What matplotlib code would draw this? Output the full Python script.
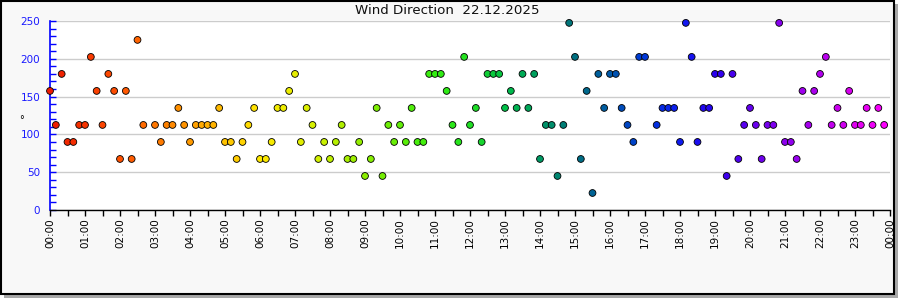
import numpy as np
import matplotlib
matplotlib.use("Agg")
import matplotlib.pyplot as plt
from matplotlib.colors import LinearSegmentedColormap
from matplotlib.patches import Rectangle

# Mesures toutes les 10 minutes (trous a 02:50 et 17:10)
times = [
    "00:00", "00:10", "00:20", "00:30", "00:40", "00:50",
    "01:00", "01:10", "01:20", "01:30", "01:40", "01:50",
    "02:00", "02:10", "02:20", "02:30", "02:40",
    "03:00", "03:10", "03:20", "03:30", "03:40", "03:50",
    "04:00", "04:10", "04:20", "04:30", "04:40", "04:50",
    "05:00", "05:10", "05:20", "05:30", "05:40", "05:50",
    "06:00", "06:10", "06:20", "06:30", "06:40", "06:50",
    "07:00", "07:10", "07:20", "07:30", "07:40", "07:50",
    "08:00", "08:10", "08:20", "08:30", "08:40", "08:50",
    "09:00", "09:10", "09:20", "09:30", "09:40", "09:50",
    "10:00", "10:10", "10:20", "10:30", "10:40", "10:50",
    "11:00", "11:10", "11:20", "11:30", "11:40", "11:50",
    "12:00", "12:10", "12:20", "12:30", "12:40", "12:50",
    "13:00", "13:10", "13:20", "13:30", "13:40", "13:50",
    "14:00", "14:10", "14:20", "14:30", "14:40", "14:50",
    "15:00", "15:10", "15:20", "15:30", "15:40", "15:50",
    "16:00", "16:10", "16:20", "16:30", "16:40", "16:50",
    "17:00", "17:20", "17:30", "17:40", "17:50",
    "18:00", "18:10", "18:20", "18:30", "18:40", "18:50",
    "19:00", "19:10", "19:20", "19:30", "19:40", "19:50",
    "20:00", "20:10", "20:20", "20:30", "20:40", "20:50",
    "21:00", "21:10", "21:20", "21:30", "21:40", "21:50",
    "22:00", "22:10", "22:20", "22:30", "22:40", "22:50",
    "23:00", "23:10", "23:20", "23:30", "23:40", "23:50",
]
direction = [
    157.5, 112.5, 180, 90, 90, 112.5,
    112.5, 202.5, 157.5, 112.5, 180, 157.5,
    67.5, 157.5, 67.5, 225, 112.5,
    112.5, 90, 112.5, 112.5, 135, 112.5,
    90, 112.5, 112.5, 112.5, 112.5, 135,
    90, 90, 67.5, 90, 112.5, 135,
    67.5, 67.5, 90, 135, 135, 157.5,
    180, 90, 135, 112.5, 67.5, 90,
    67.5, 90, 112.5, 67.5, 67.5, 90,
    45, 67.5, 135, 45, 112.5, 90,
    112.5, 90, 135, 90, 90, 180,
    180, 180, 157.5, 112.5, 90, 202.5,
    112.5, 135, 90, 180, 180, 180,
    135, 157.5, 135, 180, 135, 180,
    67.5, 112.5, 112.5, 45, 112.5, 247.5,
    202.5, 67.5, 157.5, 22.5, 180, 135,
    180, 180, 135, 112.5, 90, 202.5,
    202.5, 112.5, 135, 135, 135,
    90, 247.5, 202.5, 90, 135, 135,
    180, 180, 45, 180, 67.5, 112.5,
    135, 112.5, 67.5, 112.5, 112.5, 247.5,
    90, 90, 67.5, 157.5, 112.5, 157.5,
    180, 202.5, 112.5, 135, 112.5, 157.5,
    112.5, 112.5, 135, 112.5, 135, 112.5,
]
hour_labels = ["%02d:00" % h for h in range(24)] + ["00:00"]
title = "Wind Direction  22.12.2025"

hours = np.array([int(t[:2]) + int(t[3:]) / 60 for t in times])
direction = np.array(direction)

# couleur selon l'heure (arc-en-ciel rouge -> magenta)
cmap = LinearSegmentedColormap.from_list("day", [
    (0 / 24, "#ee1a00"), (2 / 24, "#ff5200"), (4 / 24, "#ff9c00"),
    (6 / 24, "#ffe800"), (7.5 / 24, "#d8f000"), (9 / 24, "#8cee00"),
    (11 / 24, "#33ee10"), (12 / 24, "#22e022"), (13 / 24, "#00c048"),
    (14 / 24, "#009a62"), (15 / 24, "#00707e"), (16 / 24, "#0058a8"),
    (17 / 24, "#0038d8"), (18 / 24, "#0c1cf0"), (19 / 24, "#2800ee"),
    (20 / 24, "#6000ee"), (21 / 24, "#8a00ee"), (22 / 24, "#b000ee"),
    (23 / 24, "#dc00ee"), (24 / 24, "#ff00ff"),
])

fig = plt.figure(figsize=(9, 3), dpi=100, facecolor="white")

# cadre avec ombre (derriere les axes)
fig.patches.append(Rectangle((4 / 900, 2 / 300), 894 / 900, 294 / 300,
                             transform=fig.transFigure, facecolor="#a8a8a8",
                             edgecolor="none", zorder=-10))
fig.patches.append(Rectangle((0.5 / 900, 6.5 / 300), 893 / 900, 293 / 300,
                             transform=fig.transFigure, facecolor="#f8f8f8",
                             edgecolor="black", linewidth=1.5, zorder=-9))

ax = fig.add_axes([50 / 900, 90 / 300, 840 / 900, 189 / 300])
ax.set_facecolor("white")
ax.scatter(hours, direction, s=24, c=cmap(hours / 24), edgecolors="black",
           linewidths=0.6, zorder=3, clip_on=False)

ax.set_xlim(0, 24)
ax.set_ylim(0, 250)
ax.set_yticks(np.arange(0, 251, 50))
ax.set_yticks(np.arange(0, 251, 10), minor=True)
ax.set_xticks(np.arange(0, 25))
ax.set_xticklabels(hour_labels, rotation=90)
ax.set_xticks(np.arange(0.5, 24, 1), minor=True)

ax.grid(axis="y", color="#cccccc", linewidth=1)
ax.set_axisbelow(True)
for s in ["top", "right"]:
    ax.spines[s].set_visible(False)
ax.spines["left"].set_color("#0000ff")
ax.spines["left"].set_linewidth(1.2)
ax.spines["bottom"].set_color("black")
ax.spines["bottom"].set_linewidth(1.0)

ax.tick_params(axis="y", which="both", direction="in", length=4, width=1,
               color="#0000ff", labelcolor="#1a1aff", labelsize=7.5, pad=7)
ax.tick_params(axis="x", which="both", direction="out", length=4, width=1,
               color="black", labelsize=7.5, pad=2)

ax.set_ylabel("°", rotation=0, fontsize=7)
ax.yaxis.set_label_coords(-0.034, 0.45)

fig.text(0.497, 0.965, title, ha="center", va="center", fontsize=9.6,
         color="#101010")

fig.savefig("out.png", dpi=100, facecolor=fig.get_facecolor())
